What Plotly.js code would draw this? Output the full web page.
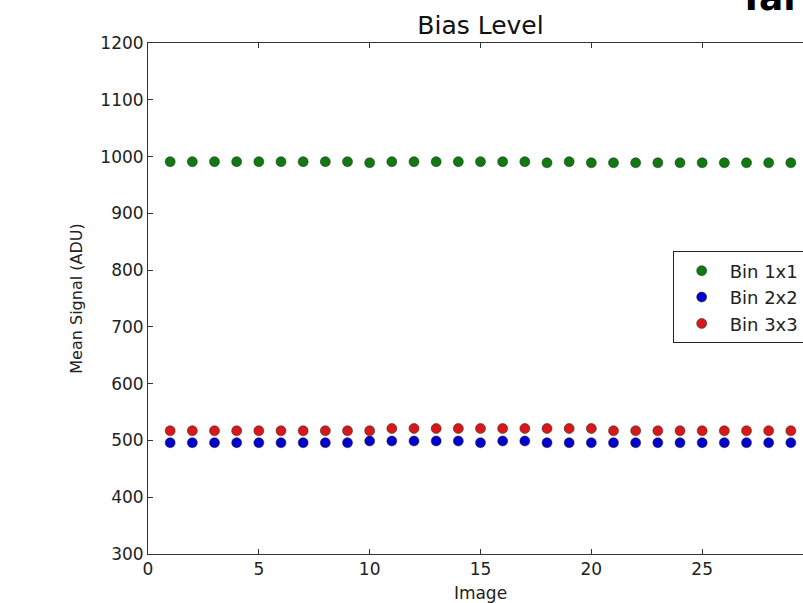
<!DOCTYPE html>
<html>
<head>
<meta charset="utf-8">
<script src="https://cdn.plot.ly/plotly-3.0.1.min.js"></script>
<style>
html, body { margin: 0; padding: 0; overflow: hidden; background: #fff; }
#wrap { position: absolute; left: 0; top: 0; width: 803px; height: 603px; overflow: hidden; }
#chart { position: absolute; left: 0; top: 0; width: 830px; height: 603px; }
</style>
</head>
<body>
<div id="wrap"><div id="chart"></div></div>
<script>
const images = [1,2,3,4,5,6,7,8,9,10,11,12,13,14,15,16,17,18,19,20,21,22,23,24,25,26,27,28,29,30];
const bin1x1 = [991,991,991,991,991,991,991,991,991,989,991,991,991,991,991,991,991,989,991,989,989,989,989,989,989,989,989,989,989,989];
const bin2x2 = [496,496,496,496,496,496,496,496,496,499,499,499,499,499,496,499,499,496,496,496,496,496,496,496,496,496,496,496,496,496];
const bin3x3 = [517,517,517,517,517,517,517,517,517,517,521,521,521,521,521,521,521,521,521,521,517,517,517,517,517,517,517,517,517,517];
const seriesNames = ["Bin 1x1", "Bin 2x2", "Bin 3x3"];
const seriesColors = ["#107a10", "#0000cc", "#d81818"];
const xTicks = [0,5,10,15,20,25,30];
const yTicks = [300,400,500,600,700,800,900,1000,1100,1200];

const font = "DejaVu Sans, sans-serif";
const traces = [bin1x1, bin2x2, bin3x3].map((ys, i) => ({
  type: "scatter",
  mode: "markers",
  x: images,
  y: ys,
  name: seriesNames[i],
  legendgroup: "g" + i,
  cliponaxis: true,
  marker: { size: 10, color: seriesColors[i], line: { width: 0.5, color: "#202020" } }
}));

const axisCommon = {
  showgrid: false,
  zeroline: false,
  showline: true,
  linecolor: "#333",
  linewidth: 1,
  mirror: "ticks",
  ticks: "inside",
  ticklen: 5,
  tickwidth: 1,
  tickcolor: "#333",
  tickfont: { family: font, size: 17, color: "#222" }
};

const layout = {
  width: 830,
  height: 603,
  margin: { l: 148, r: 17, t: 43, b: 49 },
  paper_bgcolor: "#fff",
  plot_bgcolor: "#fff",
  font: { family: font, color: "#222" },
  title: { text: "Bias Level", font: { family: font, size: 25, color: "#111" }, x: 0.5, xref: "paper", y: 0.958, yanchor: "middle" },
  xaxis: Object.assign({}, axisCommon, {
    range: [0, 30],
    tickvals: xTicks,
    ticktext: xTicks.map(String),
    title: { text: "Image", font: { family: font, size: 17, color: "#222" }, standoff: 10 }
  }),
  yaxis: Object.assign({}, axisCommon, {
    range: [300, 1200],
    tickvals: yTicks,
    ticktext: yTicks.map(String),
    title: { text: "Mean Signal (ADU)", font: { family: font, size: 16, color: "#222" }, standoff: 13 }
  }),
  showlegend: true,
  legend: {
    x: 0.789, y: 0.592, xanchor: "left", yanchor: "top",
    bgcolor: "#fff", bordercolor: "#222", borderwidth: 1,
    font: { family: font, size: 18, color: "#222" },
    tracegroupgap: 0,
    itemwidth: 46
  },
  annotations: [{
    text: "<b>Tal</b>",
    xref: "paper", yref: "paper",
    x: 0.885, y: 1.045, xanchor: "left", yanchor: "bottom",
    showarrow: false,
    font: { family: font, size: 36, color: "#000" }
  }]
};

Plotly.newPlot("chart", traces, layout, { displayModeBar: false, staticPlot: true });
</script>
</body>
</html>
